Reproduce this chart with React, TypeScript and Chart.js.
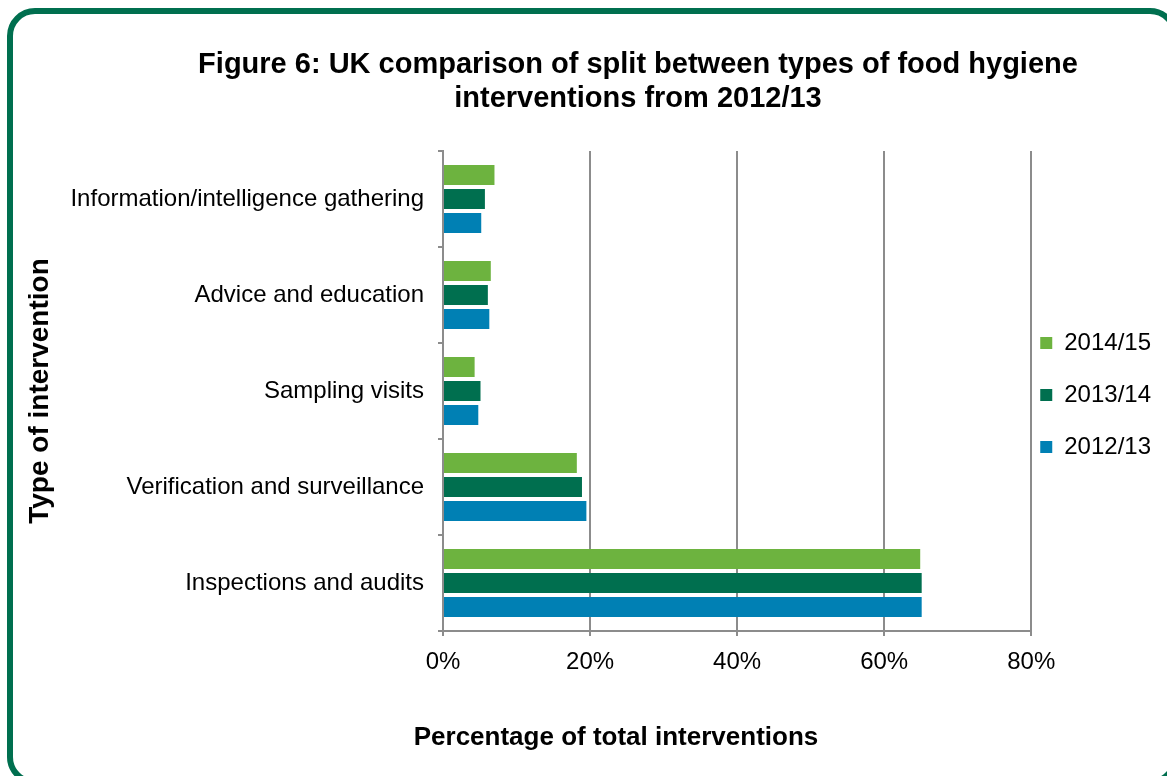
import React, { useEffect, useRef } from 'react';
import { Chart, registerables } from 'chart.js';

Chart.register(...registerables);

const categories = [
  'Information/intelligence gathering',
  'Advice and education',
  'Sampling visits',
  'Verification and surveillance',
  'Inspections and audits',
];
const seriesLabels = ['2014/15', '2013/14', '2012/13'];
const values201415 = [7.0, 6.5, 4.3, 18.2, 64.9];
const values201314 = [5.7, 6.1, 5.1, 18.9, 65.1];
const values201213 = [5.2, 6.3, 4.8, 19.5, 65.1];
const xTickValues = [0, 20, 40, 60, 80];
const titleLines = [
  'Figure 6: UK comparison of split between types of food hygiene',
  'interventions from 2012/13',
];
const xTitle = 'Percentage of total interventions';
const yTitle = 'Type of intervention';

const seriesColors = ['#6DB33F', '#006F4F', '#0080B4'];
const gridColor = '#8C8C8C';
const FONT = "'Liberation Sans', Arial, Helvetica, sans-serif";

const textPlugin = {
  id: 'fixedTexts',
  afterDraw(chart: any) {
    const ctx = chart.ctx;
    ctx.save();
    ctx.fillStyle = '#000';
    ctx.textAlign = 'center';
    ctx.textBaseline = 'alphabetic';
    ctx.font = `bold 29px ${FONT}`;
    ctx.fillText(titleLines[0], 638, 73);
    ctx.fillText(titleLines[1], 638, 107);
    ctx.font = `bold 26px ${FONT}`;
    ctx.fillText(xTitle, 616, 745);
    ctx.restore();
  },
};

const legendShift = {
  id: 'legendShift',
  afterLayout(chart: any) {
    const lg = chart.legend;
    if (!lg) return;
    lg.left -= 19;
    lg.right -= 19;
    lg.top += 4;
    lg.bottom += 4;
  },
};

export default function App() {
  const ref = useRef<HTMLCanvasElement | null>(null);

  useEffect(() => {
    if (!ref.current) return;
    const datasets = [values201415, values201314, values201213].map((vals, i) => ({
      label: seriesLabels[i],
      data: vals,
      backgroundColor: seriesColors[i],
      borderWidth: 0,
      categoryPercentage: 0.75,
      barPercentage: 0.84,
    }));
    const chart = new Chart(ref.current, {
      type: 'bar',
      data: { labels: categories, datasets },
      plugins: [textPlugin, legendShift],
      options: {
        indexAxis: 'y',
        animation: false,
        responsive: true,
        maintainAspectRatio: false,
        color: '#000',
        font: { family: FONT },
        layout: { padding: { top: 151, left: 0, right: -13, bottom: 0 } },
        plugins: {
          title: { display: false },
          tooltip: { enabled: false },
          legend: {
            position: 'right',
            fullSize: false,
            align: 'center',
            labels: {
              boxWidth: 12,
              boxHeight: 12,
              padding: 28,
              color: '#000',
              font: { family: FONT, size: 24 },
            },
          },
        },
        scales: {
          x: {
            type: 'linear',
            min: 0,
            max: 80,
            afterFit: (s: any) => { s.height = 145; },
            afterBuildTicks: (s: any) => { s.ticks = xTickValues.map((v) => ({ value: v })); },
            ticks: {
              color: '#000',
              padding: 12,
              font: { family: FONT, size: 24 },
              callback: (v: any) => `${v}%`,
            },
            grid: { color: gridColor, lineWidth: 2, tickLength: 5, drawTicks: true },
            border: { display: true, color: gridColor, width: 2 },
          },
          y: {
            type: 'category',
            offset: true,
            afterFit: (s: any) => { s.width = 443; },
            ticks: {
              color: '#000',
              padding: 14,
              font: { family: FONT, size: 24 },
            },
            grid: { offset: true, drawOnChartArea: false, drawTicks: true, tickLength: 5, color: gridColor, lineWidth: 2 },
            border: { display: true, color: gridColor, width: 2 },
            title: {
              display: true,
              text: yTitle,
              color: '#000',
              padding: { top: 23, bottom: 0 },
              font: { family: FONT, size: 28, weight: 'bold' },
            },
          },
        },
      },
    } as any);
    return () => chart.destroy();
  }, []);

  return (
    <div style={{ position: 'fixed', left: 0, top: 0, width: 1167, height: 776, overflow: 'hidden', background: '#fff' }}>
      <div
        style={{
          position: 'absolute',
          left: 7,
          top: 8,
          width: 1171,
          height: 777,
          boxSizing: 'border-box',
          border: '6px solid #006F4F',
          borderRadius: 28,
        }}
      />
      <div style={{ position: 'absolute', left: 0, top: 0, width: 1167, height: 776 }}>
        <canvas ref={ref} />
      </div>
    </div>
  );
}
